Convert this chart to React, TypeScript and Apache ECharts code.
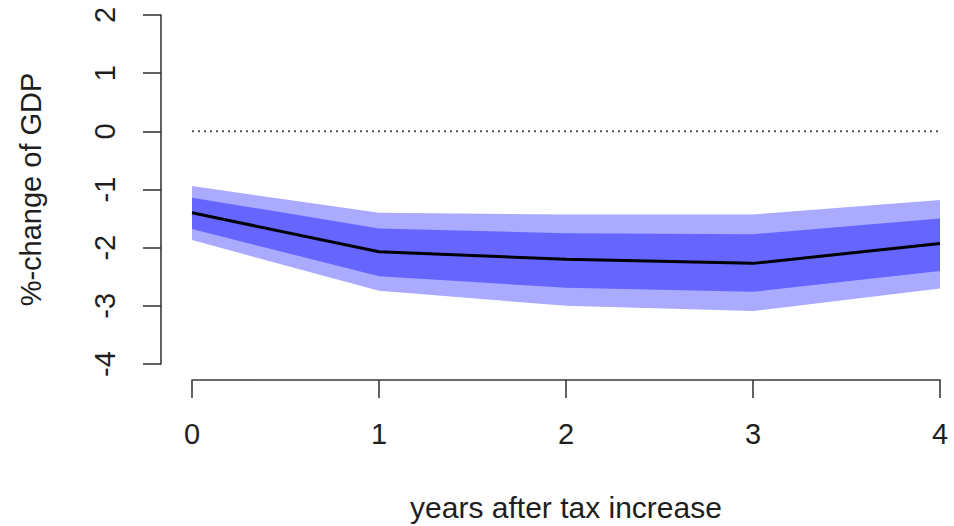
import React, { useEffect, useRef } from "react";
import * as echarts from "echarts";

// Years after the tax increase
const years = [0, 1, 2, 3, 4];
// Point estimate of the GDP response (%)
const response = [-1.4, -2.07, -2.2, -2.27, -1.93];
// Inner (darker) confidence band
const innerUpper = [-1.14, -1.67, -1.75, -1.77, -1.5];
const innerLower = [-1.68, -2.49, -2.69, -2.76, -2.4];
// Outer (lighter) confidence band
const outerUpper = [-0.94, -1.4, -1.43, -1.43, -1.18];
const outerLower = [-1.87, -2.74, -3.0, -3.09, -2.7];

const yTicks = [-4, -3, -2, -1, 0, 1, 2];

const FONT = "'Liberation Sans', Arial, Helvetica, sans-serif";
const AXIS_COLOR = "#3a3a3a";
const TEXT_COLOR = "#1e1e1e";

function bandSeries(upper: number[], lower: number[], color: string) {
  return {
    type: "custom",
    silent: true,
    data: [[0, 0]],
    z: 1,
    renderItem: (_params: any, api: any) => {
      const pts: number[][] = [];
      for (let i = 0; i < years.length; i++) pts.push(api.coord([years[i], upper[i]]));
      for (let i = years.length - 1; i >= 0; i--) pts.push(api.coord([years[i], lower[i]]));
      return {
        type: "polygon",
        shape: { points: pts },
        style: { fill: color, stroke: null },
      };
    },
  };
}

export default function App() {
  const ref = useRef<HTMLDivElement>(null);

  useEffect(() => {
    if (!ref.current) return;
    const chart = echarts.init(ref.current, undefined, { renderer: "svg" });
    chart.setOption({
      animation: false,
      backgroundColor: "#ffffff",
      grid: { left: 192, right: 14, top: 15, bottom: 162, outerBoundsMode: "none" },
      xAxis: {
        type: "value",
        min: 0,
        max: 4,
        interval: 1,
        offset: 16,
        name: "years after tax increase",
        nameLocation: "middle",
        nameGap: 112,
        nameTextStyle: { fontFamily: FONT, fontSize: 30, lineHeight: 30, color: TEXT_COLOR },
        axisLine: { show: true, onZero: false, lineStyle: { color: AXIS_COLOR, width: 1.6 } },
        axisTick: { show: true, length: 18, lineStyle: { color: AXIS_COLOR, width: 1.6 } },
        axisLabel: { margin: 39, fontFamily: FONT, fontSize: 29, color: TEXT_COLOR },
        splitLine: { show: false },
      },
      yAxis: {
        type: "value",
        min: yTicks[0],
        max: yTicks[yTicks.length - 1],
        interval: 1,
        offset: 31,
        name: "%-change of GDP",
        nameLocation: "middle",
        nameGap: 116,
        nameTextStyle: { fontFamily: FONT, fontSize: 29, color: TEXT_COLOR },
        axisLine: { show: true, onZero: false, lineStyle: { color: AXIS_COLOR, width: 1.6 } },
        axisTick: { show: true, length: 18, lineStyle: { color: AXIS_COLOR, width: 1.6 } },
        axisLabel: { rotate: 90, margin: 42, fontFamily: FONT, fontSize: 29, color: TEXT_COLOR },
        splitLine: { show: false },
      },
      series: [
        bandSeries(outerUpper, outerLower, "#aaaaff"),
        bandSeries(innerUpper, innerLower, "#6666ff"),
        {
          type: "line",
          data: [[years[0], 0], [years[years.length - 1], 0]],
          symbol: "none",
          silent: true,
          z: 2,
          lineStyle: { color: "#555555", width: 2, type: [2, 4] },
        },
        {
          type: "line",
          data: years.map((x, i) => [x, response[i]]),
          symbol: "none",
          silent: true,
          z: 3,
          lineStyle: { color: "#000000", width: 3 },
        },
      ],
    });
    return () => chart.dispose();
  }, []);

  return (
    <div
      ref={ref}
      style={{ position: "fixed", left: 0, top: 0, width: 954, height: 526, background: "#fff" }}
    />
  );
}
